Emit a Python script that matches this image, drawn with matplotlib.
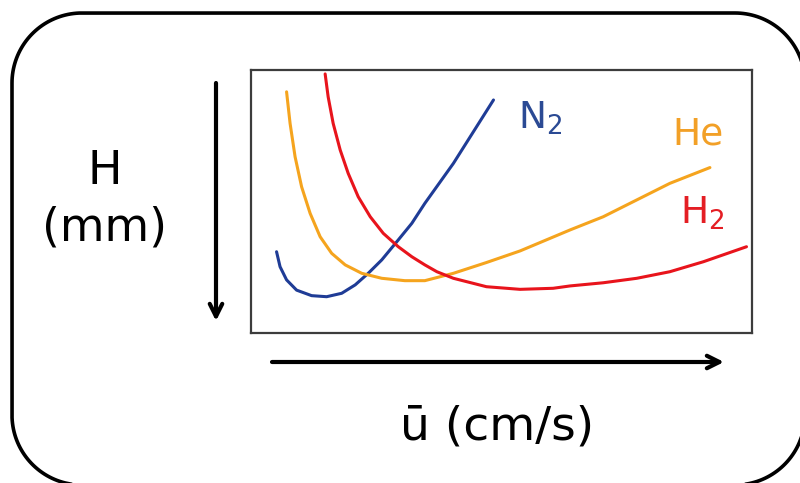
import numpy as np
import matplotlib.pyplot as plt

# plate height H vs mean carrier gas velocity (arbitrary units, 0-10 on both axes)
n2_u = [0.51, 0.58, 0.71, 0.91, 1.21, 1.51, 1.81, 2.08, 2.34, 2.61, 2.94, 3.21, 3.47, 4.04, 4.84]
n2_h = [3.09, 2.52, 2.02, 1.63, 1.42, 1.38, 1.51, 1.83, 2.27, 2.78, 3.54, 4.17, 4.93, 6.45, 8.86]

he_u = [0.71, 0.78, 0.88, 1.01, 1.18, 1.38, 1.61, 1.88, 2.21, 2.61, 3.07, 3.47,
        4.04, 4.70, 5.37, 6.37, 7.03, 7.70, 8.36, 9.16]
he_h = [9.17, 7.97, 6.70, 5.56, 4.55, 3.66, 3.03, 2.59, 2.27, 2.08, 1.99, 1.99,
        2.27, 2.68, 3.12, 3.92, 4.42, 5.06, 5.69, 6.29]

h2_u = [1.48, 1.54, 1.64, 1.78, 1.94, 2.14, 2.38, 2.64, 2.94, 3.21, 3.47, 3.71,
        4.04, 4.70, 5.37, 6.03, 6.37, 7.03, 7.70, 8.36, 9.03, 9.89]
h2_h = [9.85, 8.98, 7.97, 6.96, 6.07, 5.18, 4.42, 3.79, 3.28, 2.90, 2.59, 2.33,
        2.08, 1.76, 1.66, 1.70, 1.79, 1.91, 2.08, 2.33, 2.71, 3.28]

gases = ['N$_2$', 'He', 'H$_2$']
label_u = [5.77, 8.92, 9.00]
label_h = [8.17, 7.53, 4.55]
colors = ['#1f3c96', '#f5a41e', '#e8141c']
text_colors = ['#2b4a94', '#f2a027', '#e41e24']

W, Hpx = 800, 483
fig = plt.figure(figsize=(W / 100, Hpx / 100), dpi=100)

# background layer in pixel coordinates (origin bottom left)
bg = fig.add_axes([0, 0, 1, 1])
bg.set_xlim(0, W)
bg.set_ylim(0, Hpx)
bg.axis('off')

# rounded outer frame, drawn as a polyline so clipping at the edge stays clean
x0, x1, y0, y1, r = 12, 805, -2, 470, 70
corners = [(x1 - r, y1 - r, 0), (x0 + r, y1 - r, 90), (x0 + r, y0 + r, 180), (x1 - r, y0 + r, 270)]
fx, fy = [], []
for cx, cy, a0 in corners:
    t = np.radians(np.linspace(a0, a0 + 90, 40))
    fx.extend(cx + r * np.cos(t))
    fy.extend(cy + r * np.sin(t))
fx.append(fx[0])
fy.append(fy[0])
bg.plot(fx, fy, color='black', lw=2.6, solid_joinstyle='round')

arrow_kw = dict(arrowstyle='->,head_length=0.9,head_width=0.45', lw=3, color='black',
                shrinkA=0, shrinkB=0)
bg.annotate('', xy=(216, Hpx - 321), xytext=(216, Hpx - 83), arrowprops=arrow_kw)
bg.annotate('', xy=(724, Hpx - 362), xytext=(272, Hpx - 362), arrowprops=arrow_kw)

bg.text(105, Hpx - 172, 'H', fontsize=33, ha='center', va='center')
bg.text(105, Hpx - 228, '(mm)', fontsize=33, ha='center', va='center')
bg.text(497, Hpx - 427, 'ū (cm/s)', fontsize=34, ha='center', va='center')

# the plot itself
ax = fig.add_axes([251 / W, 1 - 333 / Hpx, 501 / W, 263 / Hpx])
ax.set_xlim(0, 10)
ax.set_ylim(0, 10)
ax.set_xticks([])
ax.set_yticks([])
for s in ax.spines.values():
    s.set_color('#3c3c3c')
    s.set_linewidth(1.6)

for u, h, c in [(n2_u, n2_h, colors[0]), (he_u, he_h, colors[1]), (h2_u, h2_h, colors[2])]:
    ax.plot(u, h, color=c, lw=2.2, solid_capstyle='round', solid_joinstyle='round')

for name, x, y, c in zip(gases, label_u, label_h, text_colors):
    ax.text(x, y, name, color=c, fontsize=27, ha='center', va='center')

fig.savefig('out.png', dpi=100, facecolor='white')
